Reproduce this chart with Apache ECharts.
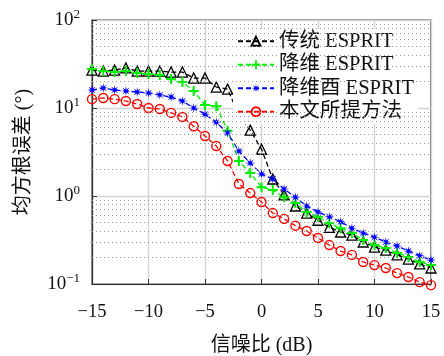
<!DOCTYPE html>
<html>
<head>
<meta charset="utf-8">
<script src="https://cdn.jsdelivr.net/npm/echarts@6/dist/echarts.min.js"></script>
<style>html,body{margin:0;padding:0;background:#fff;}#c{width:444px;height:356px;}</style>
</head>
<body>
<div id="c"></div>
<script>
const snr = [-15,-14,-13,-12,-11,-10,-9,-8,-7,-6,-5,-4,-3,-2,-1,0,1,2,3,4,5,6,7,8,9,10,11,12,13,14,15];
const traditional = [27, 26.3, 27, 28.5, 26.3, 26.3, 26.3, 25.6, 25.6, 21.9, 21.9, 17.3, 16.4, 8.3, 5.6, 3.4, 1.56, 1.03, 0.77, 0.64, 0.53, 0.44, 0.39, 0.36, 0.30, 0.263, 0.243, 0.214, 0.192, 0.169, 0.152];
const reduced = [27.7, 26.3, 25.6, 26.3, 25, 24.3, 23.7, 21.4, 19.7, 15.6, 10.8, 10.5, 5.5, 2.5, 1.82, 1.26, 1.17, 0.97, 0.83, 0.66, 0.58, 0.49, 0.43, 0.38, 0.316, 0.277, 0.257, 0.225, 0.203, 0.178, 0.164];
const unitary = [16.0, 16.9, 16.0, 15.6, 15.2, 14.8, 14.1, 13.3, 12.0, 10.0, 8.5, 6.9, 5.2, 3.25, 2.37, 1.78, 1.56, 1.2, 0.97, 0.77, 0.66, 0.58, 0.51, 0.43, 0.38, 0.34, 0.30, 0.27, 0.237, 0.21, 0.187];
const proposed = [12.6, 13.0, 12.6, 12.0, 11.1, 10.0, 9.75, 8.8, 7.9, 6.2, 4.8, 3.7, 2.5, 1.37, 1.08, 0.855, 0.64, 0.55, 0.46, 0.40, 0.333, 0.277, 0.237, 0.214, 0.178, 0.164, 0.152, 0.133, 0.12, 0.105, 0.097];
const seriesNames = ['传统 ESPRIT', '降维 ESPRIT', '降维酉 ESPRIT', '本文所提方法'];
const xTicks = [-15, -10, -5, 0, 5, 10, 15];
const yMinorGrid = [0.2,0.3,0.4,0.5,0.6,0.7,0.8,0.9,2,3,4,5,6,7,8,9,20,30,40,50,60,70,80,90];

const FONT = "'Liberation Serif','DejaVu Serif','Noto Sans CJK SC',serif";
const PLUS = 'path://M-1,-5 L1,-5 L1,-1 L5,-1 L5,1 L1,1 L1,5 L-1,5 L-1,1 L-5,1 L-5,-1 L-1,-1 Z';
const STAR = 'path://M5,0 L1.48,0.61 L3.54,3.54 L0.61,1.48 L0,5 L-0.61,1.48 L-3.54,3.54 L-1.48,0.61 L-5,0 L-1.48,-0.61 L-3.54,-3.54 L-0.61,-1.48 L0,-5 L0.61,-1.48 L3.54,-3.54 L1.48,-0.61 Z';

function pairs(arr){ return snr.map((x,i)=>[x, arr[i]]); }
function mk(name, data, color, symbol, size, fill, bw){
  return {
    name, type:'line', data: pairs(data), clip:false,
    symbol, symbolSize:size,
    lineStyle:{color, width:1.3, type:[5,3]},
    itemStyle:{color: fill, borderColor: color, borderWidth: bw},
    z: 3
  };
}
const chart = echarts.init(document.getElementById('c'), null, {renderer:'canvas'});
const sup = v => String(Math.round(Math.log10(v))).replace('-', '\u2212');
chart.setOption({
  animation:false,
  backgroundColor:'#fff',
  grid:{left:92, right:13, top:20, bottom:72, show:true, borderColor:'#333', borderWidth:1.2,
        containLabel:false, outerBoundsMode:'none'},
  legend:{
    data: seriesNames,
    orient:'vertical', left:233, top:29,
    itemWidth:36, itemHeight:11, itemGap:3,
    backgroundColor:'#fff', padding:[2,4,2,4],
    textStyle:{fontFamily:FONT, fontSize:20.5, color:'#111'}
  },
  xAxis:{
    type:'value', min:-15, max:15, interval:5,
    name:'信噪比 (dB)', nameLocation:'middle', nameGap:52,
    nameTextStyle:{fontFamily:FONT, fontSize:20, color:'#111'},
    axisLine:{show:true, onZero:false, lineStyle:{color:'#333', width:1.2}},
    axisTick:{show:true, inside:true, length:5, lineStyle:{color:'#333'}},
    axisLabel:{fontFamily:FONT, fontSize:18.5, color:'#111', margin:19,
      formatter: v => String(v).replace('-', '\u2212')},
    splitLine:{show:true, lineStyle:{color:'#d4d4d4', width:1.4}}
  },
  yAxis:{
    type:'log', logBase:10, min:0.1, max:100,
    name:'均方根误差 (°)', nameLocation:'middle', nameGap:58,
    nameTextStyle:{fontFamily:FONT, fontSize:20, color:'#111'},
    axisLine:{show:true, onZero:false, lineStyle:{color:'#333', width:1.2}},
    axisTick:{show:true, inside:true, length:5, lineStyle:{color:'#333'}},
    axisLabel:{fontFamily:FONT, color:'#111', margin:12,
      formatter: v => '{b|10}{s|' + sup(v) + '}',
      rich:{ b:{fontFamily:FONT, fontSize:19, color:'#111'},
             s:{fontFamily:FONT, fontSize:13, color:'#111', padding:[0,0,10,0]} }},
    splitLine:{show:true, lineStyle:{color:'#d4d4d4', width:1.4}}
  },
  series:[
    {
      type:'line', data:[], silent:true, z:1,
      markLine:{silent:true, symbol:['none','none'], label:{show:false},
        lineStyle:{color:'#9a9a9a', type:[1,3], width:1},
        data: yMinorGrid.map(v=>({yAxis:v}))}
    },
    mk(seriesNames[0], traditional, '#000000', 'triangle', 10, 'rgba(255,255,255,0)', 1.3),
    mk(seriesNames[1], reduced, '#00ee00', PLUS, 10, '#00ee00', 0),
    mk(seriesNames[2], unitary, '#0000ff', STAR, 10, '#0000ff', 0),
    mk(seriesNames[3], proposed, '#ff0000', 'circle', 9, 'rgba(255,255,255,0)', 1.4)
  ]
});
</script>
</body>
</html>
